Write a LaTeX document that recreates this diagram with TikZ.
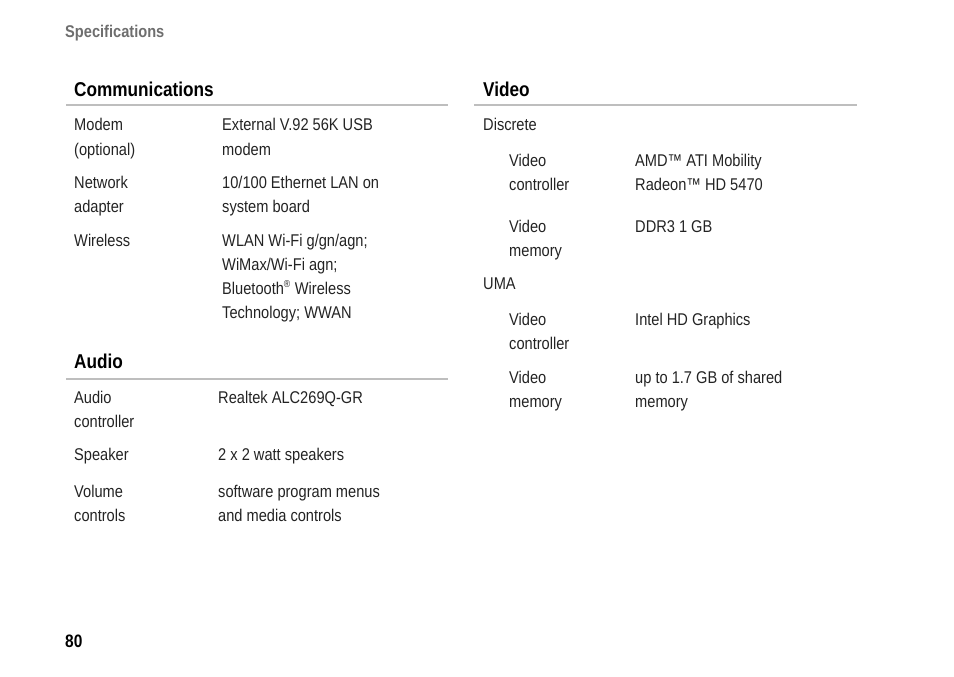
\documentclass[tikz,border=0pt]{standalone}
\usepackage{fontspec}
\setmainfont{Liberation Sans}[FakeStretch=0.86]
\definecolor{rulegray}{RGB}{190,190,190}
\definecolor{hdgray}{RGB}{110,110,110}
\definecolor{txt}{RGB}{35,35,35}
\begin{document}
\begin{tikzpicture}[x=1pt,y=-1pt,
  t/.style={anchor=base west,inner sep=0pt,text=txt,font=\fontsize{17}{24}\selectfont},
  h/.style={anchor=base west,inner sep=0pt,text=black,font=\fontsize{20}{24}\selectfont\bfseries},
  hr/.style={draw=rulegray,line width=2.5pt}]
\useasboundingbox (0,0) rectangle (954,677);
\node[anchor=base west,inner sep=0pt,text=hdgray,font=\fontsize{17}{20}\selectfont\bfseries] (spec) at (65,38) {Specifications};
\node[anchor=base west,inner sep=0pt,font=\fontsize{18}{20}\selectfont\bfseries] (pg) at (65,647) {80};
% Communications
\node[h] (hc) at (74,96) {Communications};
\draw[hr] (66,105) -- (448,105);
\node[t] (a1) at (74,131) {Modem};
\node[t] (a2) at (74,155) {(optional)};
\node[t] (b1) at (222,131) {External V.92 56K USB};
\node[t] (b2) at (222,155) {modem};
\node[t] (a3) at (74,188) {Network};
\node[t] (a4) at (74,212) {adapter};
\node[t] (b3) at (222,188) {10/100 Ethernet LAN on};
\node[t] (b4) at (222,212) {system board};
\node[t] (a5) at (74,246) {Wireless};
\node[t] (b5) at (222,246) {WLAN Wi-Fi g/gn/agn;};
\node[t] (b6) at (222,270) {WiMax/Wi-Fi agn;};
\node[t] (b7) at (222,294) {Bluetooth\textsuperscript{\fontsize{10}{10}\selectfont ®} Wireless};
\node[t] (b8) at (222,318) {Technology; WWAN};
% Audio
\node[h] (ha) at (74,368) {Audio};
\draw[hr] (66,379) -- (448,379);
\node[t] (c1) at (74,403) {Audio};
\node[t] (c2) at (74,427) {controller};
\node[t] (d1) at (218,403) {Realtek ALC269Q-GR};
\node[t] (c3) at (74,460) {Speaker};
\node[t] (d3) at (218,460) {2 x 2 watt speakers};
\node[t] (c4) at (74,497) {Volume};
\node[t] (c5) at (74,521) {controls};
\node[t] (d4) at (218,497) {software program menus};
\node[t] (d5) at (218,521) {and media controls};
% Video
\node[h] (hv) at (483,96) {Video};
\draw[hr] (474,105) -- (857,105);
\node[t] (e0) at (483,130) {Discrete};
\node[t] (e1) at (509,166) {Video};
\node[t] (e2) at (509,190) {controller};
\node[t] (f1) at (635,166) {AMD™ ATI Mobility};
\node[t] (f2) at (635,190) {Radeon™ HD 5470};
\node[t] (e3) at (509,232) {Video};
\node[t] (e4) at (509,256) {memory};
\node[t] (f3) at (635,232) {DDR3 1 GB};
\node[t] (e5) at (483,289) {UMA};
\node[t] (e6) at (509,325) {Video};
\node[t] (e7) at (509,349) {controller};
\node[t] (f6) at (635,325) {Intel HD Graphics};
\node[t] (e8) at (509,383) {Video};
\node[t] (e9) at (509,407) {memory};
\node[t] (f8) at (635,383) {up to 1.7 GB of shared};
\node[t] (f9) at (635,407) {memory};
\end{tikzpicture}
\end{document}
